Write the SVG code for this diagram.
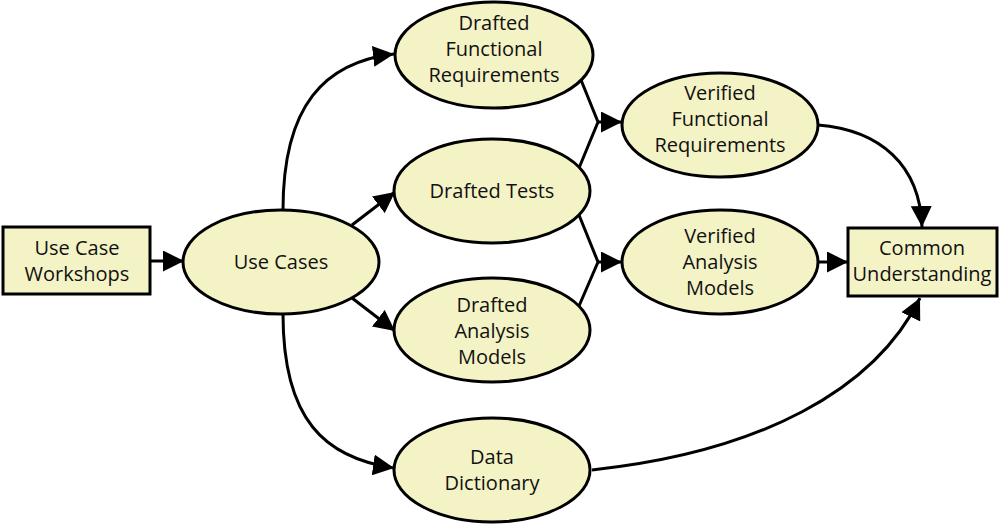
<svg xmlns="http://www.w3.org/2000/svg" width="1000" height="524" viewBox="0 0 1000 524">
<defs>
<marker id="ah" viewBox="0 0 10 10" refX="10" refY="5" markerWidth="7" markerHeight="7" markerUnits="strokeWidth" orient="auto">
<path d="M0,0 L10,5 L0,10 z" fill="#000"/>
</marker>
<style>
.n{fill:#f4f3c6;stroke:#000;stroke-width:3}
.t{font-family:"Open Sans","Noto Sans",sans-serif;font-size:20px;fill:#111;text-anchor:middle}
.c{fill:none;stroke:#000;stroke-width:3}
.a{marker-end:url(#ah)}
</style>
</defs>
<rect width="1000" height="524" fill="#fff"/>
<g id="connectors">
<line class="c a" x1="151" y1="261" x2="184" y2="261"/>
<path class="c a" d="M283,210 C283,105 325,62 394,54"/>
<line class="c a" x1="352" y1="225" x2="395" y2="192"/>
<line class="c a" x1="352" y1="298" x2="395" y2="331"/>
<path class="c a" d="M283,314 C283,420 325,458 394,468"/>
<polyline class="c" points="579,75 598,122 579,168"/>
<line class="c a" x1="598" y1="122" x2="622" y2="122"/>
<polyline class="c" points="579,215 598,262 579,306"/>
<line class="c a" x1="598" y1="262" x2="622" y2="262"/>
<path class="c a" d="M818,125 C880,130 920,165 922,227"/>
<line class="c a" x1="818" y1="262" x2="848" y2="262"/>
<path class="c a" d="M592,470 C760,452 875,390 920,298"/>
</g>
<g id="workshops">
<rect class="n" x="3" y="227" width="147" height="67"/>
<text class="t" x="77" y="255">Use Case</text>
<text class="t" x="77" y="281">Workshops</text>
</g>
<g id="usecases">
<ellipse class="n" cx="281" cy="262" rx="98" ry="52"/>
<text class="t" x="281" y="269">Use Cases</text>
</g>
<g id="dfr">
<ellipse class="n" cx="494" cy="55" rx="99" ry="53"/>
<text class="t" x="494" y="30">Drafted</text>
<text class="t" x="494" y="56">Functional</text>
<text class="t" x="494" y="82">Requirements</text>
</g>
<g id="dt">
<ellipse class="n" cx="492" cy="191" rx="98" ry="52"/>
<text class="t" x="492" y="198">Drafted Tests</text>
</g>
<g id="dam">
<ellipse class="n" cx="492" cy="330" rx="98" ry="52"/>
<text class="t" x="492" y="312">Drafted</text>
<text class="t" x="492" y="338">Analysis</text>
<text class="t" x="492" y="364">Models</text>
</g>
<g id="dd">
<ellipse class="n" cx="492" cy="470" rx="98" ry="52"/>
<text class="t" x="492" y="464">Data</text>
<text class="t" x="492" y="490">Dictionary</text>
</g>
<g id="vfr">
<ellipse class="n" cx="720" cy="125" rx="98" ry="52"/>
<text class="t" x="720" y="100">Verified</text>
<text class="t" x="720" y="126">Functional</text>
<text class="t" x="720" y="152">Requirements</text>
</g>
<g id="vam">
<ellipse class="n" cx="720" cy="262" rx="98" ry="52"/>
<text class="t" x="720" y="243">Verified</text>
<text class="t" x="720" y="269">Analysis</text>
<text class="t" x="720" y="295">Models</text>
</g>
<g id="cu">
<rect class="n" x="848" y="228" width="149" height="68"/>
<text class="t" x="922" y="255">Common</text>
<text class="t" x="922" y="281">Understanding</text>
</g>
</svg>
